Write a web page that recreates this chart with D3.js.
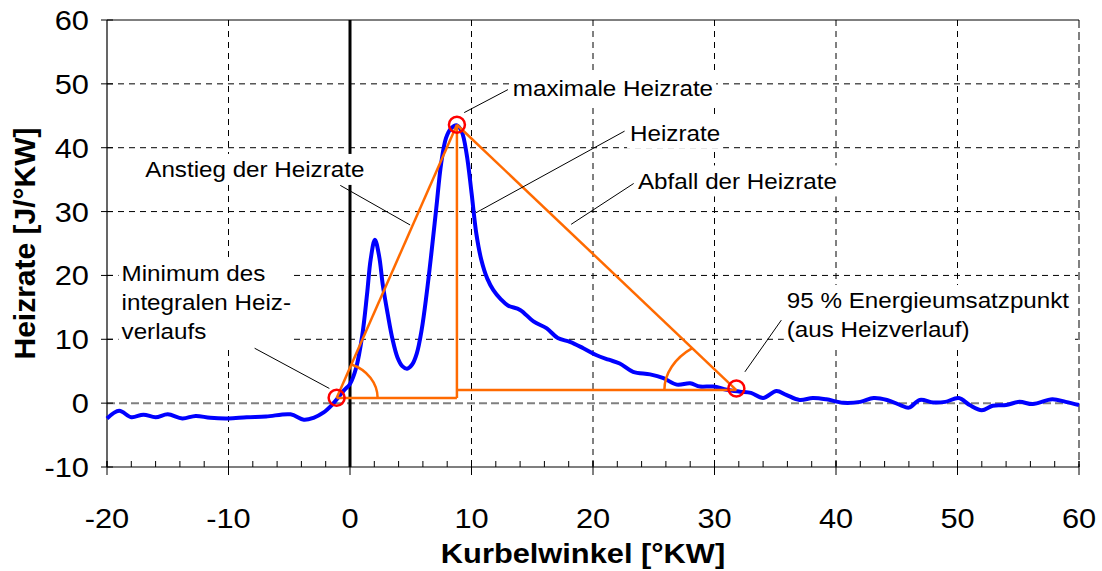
<!DOCTYPE html>
<html>
<head>
<meta charset="utf-8">
<script src="https://cdn.jsdelivr.net/npm/d3@7"></script>
<style>
  html, body { margin: 0; padding: 0; background: #fff; }
  svg { display: block; font-family: "Liberation Sans", Arial, sans-serif; }
</style>
</head>
<body>
<svg id="chart" width="1102" height="571"></svg>
<script>
// Crank angle [°KW] and heat release rate [J/°KW]
const crankAngle = [
  -20, -19, -18, -17, -16, -15, -13.8, -12.7, -11.5, -10, -8.5, -6.9, -4.9, -3.8, -3.0,
  -2.2, -1.5, -1.0, -0.5, 0, 0.5, 1.0, 1.4, 1.7, 2.05, 2.4, 2.7, 3.1, 3.5, 3.9, 4.3,
  4.7, 5.1, 5.5, 5.9, 6.3, 6.7, 7.1, 7.5, 7.9, 8.3, 8.8, 9.2, 9.6, 10.0, 10.4, 10.8,
  11.3, 11.8, 12.4, 13.0, 14.0, 15.1, 16.2, 17.1, 18.1, 19.2, 20.3, 21.3, 22.2, 23.3,
  24.7, 25.8, 26.9, 28.0, 28.8, 29.9, 31.0, 32.1, 33.0, 34.0, 35.1, 35.9, 37.0, 38.1,
  39.2, 40.6, 42.0, 43.1, 44.2, 45.3, 46.0, 46.9, 48.0, 49.0, 50.1, 51.0, 52.0, 52.9,
  54.0, 55.1, 56.2, 57.8, 58.9, 60
];
const heatRate = [
  -2.4, -1.2, -2.2, -1.8, -2.2, -1.75, -2.4, -2.0, -2.3, -2.4, -2.2, -2.1, -1.75, -2.6, -2.3,
  -1.5, -0.3, 0.8, 2.0, 3.0, 5.5, 10.5, 17.0, 22.5, 25.6, 23.0, 18.5, 14.0, 10.0, 7.2, 5.8,
  5.4, 6.0, 7.8, 11.5, 17.0, 23.5, 30.5, 37.5, 41.5, 43.0, 43.5, 42.5, 39.0, 33.0, 26.5, 22.5,
  19.5, 17.7, 16.3, 15.3, 14.6, 12.8, 11.7, 10.2, 9.6, 8.6, 7.5, 6.8, 6.2, 4.9,
  4.5, 3.9, 2.9, 3.1, 2.6, 2.6, 2.1, 1.8, 1.6, 0.8, 1.9, 1.3, 0.5, 0.8,
  0.6, 0.05, 0.2, 0.8, 0.5, -0.3, -0.7, 0.5, 0.1, 0.2, 0.8, -0.3, -1.1, -0.4,
  -0.3, 0.2, -0.15, 0.6, 0.2, -0.3
];

// Axis ticks
const xTicks = [-20, -10, 0, 10, 20, 30, 40, 50, 60];
const xMinorTicks = d3.range(-20, 60.01, 2);
const yTicks = [-10, 0, 10, 20, 30, 40, 50, 60];

// Characteristic points of the heat release triangle
const minPoint = [-1.1, 0.85];     // minimum of the integral heat release
const peakPoint = [8.8, 43.6];     // maximum heat release rate
const endPoint = [31.8, 2.3];      // 95 % conversion point
const riseBaseY = 0.8;             // base of the rising flank
const fallBaseY = 2.05;            // base of the falling flank

// Annotation texts: lines, anchor (left x in crank angle, centre y in J/°KW)
const annotations = [
  { lines: ["maximale Heizrate"], at: [13.4, 49.3] },
  { lines: ["Heizrate"], at: [23.05, 42.3] },
  { lines: ["Abfall der Heizrate"], at: [23.7, 34.8] },
  { lines: ["Anstieg der Heizrate"], at: [-16.85, 36.6] },
  { lines: ["Minimum des", "integralen Heiz-", "verlaufs"], at: [-18.8, 15.9] },
  { lines: ["95 % Energieumsatzpunkt", "(aus Heizverlauf)"], at: [35.95, 13.8] }
];
// Leader lines from the texts to the marks
const leaders = [
  [[9.4, 45.5], [13.0, 49.1]],
  [[10.35, 29.8], [22.6, 42.6]],
  [[18.2, 28.0], [23.35, 34.4]],
  [[-0.8, 34.1], [4.95, 27.9]],
  [[-7.85, 8.6], [-1.7, 2.3]],
  [[35.5, 13.0], [32.5, 4.9]]
];

const W = 1102, H = 571;
const margin = { top: 20, right: 23, bottom: 104, left: 107 };
const svg = d3.select("#chart");

const x = d3.scaleLinear().domain([-20, 60]).range([margin.left, W - margin.right]);
const y = d3.scaleLinear().domain([-10, 60]).range([H - margin.bottom, margin.top]);

const stretch = 1.1; // horizontal text stretch of the original layout

// Grid
const grid = svg.append("g");
grid.selectAll("line.v").data(xTicks.filter(d => d !== -20 && d !== 0 && d !== 60)).join("line")
  .attr("x1", d => x(d)).attr("x2", d => x(d))
  .attr("y1", y(60)).attr("y2", y(-10))
  .attr("stroke", "#000").attr("stroke-width", 1).attr("stroke-dasharray", "6,5");
grid.selectAll("line.h").data(yTicks.filter(d => d !== -10 && d !== 0 && d !== 60)).join("line")
  .attr("x1", x(-20)).attr("x2", x(60))
  .attr("y1", d => y(d)).attr("y2", d => y(d))
  .attr("stroke", "#000").attr("stroke-width", 1).attr("stroke-dasharray", "6,5");
// zero line
grid.append("line")
  .attr("x1", x(-20)).attr("x2", x(60)).attr("y1", y(0)).attr("y2", y(0))
  .attr("stroke", "#808080").attr("stroke-width", 2).attr("stroke-dasharray", "8,4");
// right edge
grid.append("line")
  .attr("x1", x(60)).attr("x2", x(60)).attr("y1", y(60)).attr("y2", y(-10))
  .attr("stroke", "#808080").attr("stroke-width", 2).attr("stroke-dasharray", "8,4");
// top edge
grid.append("line")
  .attr("x1", x(-20)).attr("x2", x(60)).attr("y1", y(60)).attr("y2", y(60))
  .attr("stroke", "#000").attr("stroke-width", 1);

// Axes with inward ticks
const xAxis = svg.append("g").attr("transform", `translate(0,${y(-10)})`);
xAxis.append("line").attr("x1", x(-20)).attr("x2", x(60)).attr("stroke", "#000").attr("stroke-width", 1.2);
xAxis.selectAll("line.minor").data(xMinorTicks).join("line")
  .attr("x1", d => x(d)).attr("x2", d => x(d)).attr("y1", 0).attr("y2", -6)
  .attr("stroke", "#000").attr("stroke-width", 1);
xAxis.selectAll("line.major").data(xTicks).join("line")
  .attr("x1", d => x(d)).attr("x2", d => x(d)).attr("y1", -6).attr("y2", 8)
  .attr("stroke", "#000").attr("stroke-width", 1);
xAxis.selectAll("text").data(xTicks).join("text")
  .attr("transform", d => `translate(${x(d)},${61}) scale(${stretch},1)`)
  .attr("text-anchor", "middle").attr("font-size", 28).text(d => d);

const yAxis = svg.append("g").attr("transform", `translate(${x(-20)},0)`);
yAxis.append("line").attr("y1", y(60)).attr("y2", y(-10)).attr("stroke", "#000").attr("stroke-width", 1.2);
yAxis.selectAll("line.major").data(yTicks).join("line")
  .attr("y1", d => y(d)).attr("y2", d => y(d)).attr("x1", -6).attr("x2", 6)
  .attr("stroke", "#000").attr("stroke-width", 1);
yAxis.selectAll("text").data(yTicks).join("text")
  .attr("transform", d => `translate(${-18},${y(d) + 10}) scale(${stretch},1)`)
  .attr("text-anchor", "end").attr("font-size", 28).text(d => d);

// TDC line
svg.append("line")
  .attr("x1", x(0)).attr("x2", x(0)).attr("y1", y(60)).attr("y2", y(-10))
  .attr("stroke", "#000").attr("stroke-width", 3);

// Axis titles
svg.append("text")
  .attr("transform", `translate(${(x(-20) + x(60)) / 2 - 10},${H - 8}) scale(${stretch},1)`)
  .attr("text-anchor", "middle").attr("font-size", 28).attr("font-weight", "bold")
  .text("Kurbelwinkel [°KW]");
svg.append("text")
  .attr("transform", `translate(${35},${(y(60) + y(-10)) / 2}) rotate(-90)`)
  .attr("text-anchor", "middle").attr("font-size", 30).attr("font-weight", "bold")
  .text("Heizrate [J/°KW]");

// Heat release rate curve
const line = d3.line().x(d => x(d[0])).y(d => y(d[1])).curve(d3.curveCatmullRom.alpha(0.5));
svg.append("path")
  .datum(crankAngle.map((a, i) => [a, heatRate[i]]))
  .attr("d", line).attr("fill", "none")
  .attr("stroke", "#0000ff").attr("stroke-width", 4).attr("stroke-linejoin", "round");

// Triangle construction
const orange = "#ff6a00";
const tri = svg.append("g").attr("fill", "none").attr("stroke", orange).attr("stroke-width", 2.5);
const seg = (a, b) => tri.append("line")
  .attr("x1", x(a[0])).attr("y1", y(a[1])).attr("x2", x(b[0])).attr("y2", y(b[1]));
seg([minPoint[0], riseBaseY], peakPoint);
seg([minPoint[0], riseBaseY], [peakPoint[0], riseBaseY]);
seg([peakPoint[0], riseBaseY], peakPoint);
seg([peakPoint[0], fallBaseY], [endPoint[0], fallBaseY]);
seg(peakPoint, [endPoint[0], fallBaseY]);

// angle arcs (pixel radii)
function angleArc(center, toward, dirX, rx, ry) {
  const cx = x(center[0]), cy = y(center[1]);
  const dx = x(toward[0]) - cx, dy = y(toward[1]) - cy;
  const len = Math.hypot(dx, dy), ux = dx / len, uy = dy / len;
  const k = 1 / Math.sqrt((ux / rx) ** 2 + (uy / ry) ** 2);
  const px = cx + ux * k, py = cy + uy * k;
  const hx = cx + dirX * rx;
  const sweep = dirX > 0 ? 1 : 0;
  tri.append("path").attr("d", `M${px},${py} A${rx},${ry} 0 0 ${sweep} ${hx},${cy}`);
}
angleArc([minPoint[0], riseBaseY], peakPoint, 1, 41, 36);
angleArc([endPoint[0], fallBaseY], peakPoint, -1, 72, 53);

// marker circles
svg.selectAll("circle.mark").data([minPoint, peakPoint, endPoint]).join("circle")
  .attr("cx", d => x(d[0])).attr("cy", d => y(d[1])).attr("r", 8)
  .attr("fill", "none").attr("stroke", "#ff0000").attr("stroke-width", 2.5);

// Annotations with white background
const ann = svg.append("g");
const fs = 22, lh = 29;
annotations.forEach(a => {
  const g = ann.append("g");
  const x0 = x(a.at[0]), yc = y(a.at[1]);
  const n = a.lines.length;
  const texts = a.lines.map((s, i) => g.append("text")
    .attr("transform", `translate(${x0},${yc + (i - (n - 1) / 2) * lh + fs * 0.36}) scale(${stretch},1)`)
    .attr("font-size", fs).text(s));
  let maxW = 0;
  texts.forEach(t => { maxW = Math.max(maxW, t.node().getComputedTextLength() * stretch); });
  g.insert("rect", "text")
    .attr("x", x0 - 3).attr("y", yc - (n * lh) / 2 - 1)
    .attr("width", maxW + 6).attr("height", n * lh + 2).attr("fill", "#fff");
});
ann.selectAll("line").data(leaders).join("line")
  .attr("x1", d => x(d[0][0])).attr("y1", d => y(d[0][1]))
  .attr("x2", d => x(d[1][0])).attr("y2", d => y(d[1][1]))
  .attr("stroke", "#000").attr("stroke-width", 1);
</script>
</body>
</html>
